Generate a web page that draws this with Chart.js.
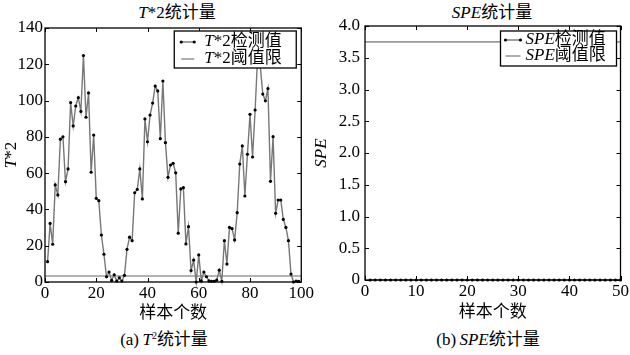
<!DOCTYPE html>
<html>
<head>
<meta charset="utf-8">
<script src="https://cdn.jsdelivr.net/npm/chart.js@4.4.1/dist/chart.umd.min.js"></script>
<style>
  body { margin: 0; background: #fff; }
  #wrap { position: relative; width: 630px; height: 355px; overflow: hidden; }
  canvas { position: absolute; top: 0; }
  .txt {
    position: absolute; white-space: nowrap; color: #000;
    font-family: "Liberation Serif", "Noto Sans CJK SC", serif;
    font-size: 17px; line-height: 20px; transform: translateX(-50%);
  }
  .txt sup { font-size: 10px; vertical-align: 6px; line-height: 0; }
</style>
</head>
<body>
<div id="wrap">
  <div class="txt" style="left:177px; top:3px;"><i>T</i>*2统计量</div>
  <div class="txt" style="left:492px; top:3px;"><i>SPE</i>统计量</div>
  <div class="txt" style="left:164px; top:330px;">(a)&thinsp;<i>T</i><sup>2</sup>统计量</div>
  <div class="txt" style="left:488px; top:330px;">(b)&thinsp;<i>SPE</i>统计量</div>
  <canvas id="t2Chart" width="315" height="355" style="left:0"></canvas>
  <canvas id="speChart" width="315" height="355" style="left:315px"></canvas>
</div>
<script>
// T^2 statistic, samples 1..99
const t2Values = [11.2, 32.3, 20.8, 53.5, 48, 78.7, 80, 55.3, 62.3, 98.9,
  86, 97, 101.6, 94, 124.8, 90.8, 104.2, 60.5, 81, 46.1,
  44.8, 25.9, 15.3, 2.9, 5.5, 0.9, 4, 0.5, 2.3, 0.5,
  3.7, 18, 24.7, 22.8, 49.2, 51, 62.3, 45.8, 89.9, 77.3,
  92, 98.6, 108, 105.3, 79, 110.8, 76.8, 57.7, 64.5, 65.4,
  60.2, 26.9, 51.3, 52, 21, 30.5, 6.3, 12.1, 0, 14.9,
  0.6, 5.5, 2.9, 0.6, 0.4, 0.4, 1, 6.5, 0.4, 22.8,
  9.9, 30.1, 29.4, 23.2, 38.2, 65, 75, 47.4, 70.4, 92.4,
  68.9, 94.8, 125, 119, 103.6, 99.9, 106.6, 55.5, 80.1, 37.9,
  45.2, 45.2, 34.5, 30.1, 22.8, 4.4, 0, 0.5, 0.3];
const t2Limit = 3.3;
const t2XRange = [0, 100];

// SPE statistic, samples 1..50 (all on the zero line)
const speValues = [0, 0, 0, 0, 0, 0, 0, 0, 0, 0,
  0, 0, 0, 0, 0, 0, 0, 0, 0, 0,
  0, 0, 0, 0, 0, 0, 0, 0, 0, 0,
  0, 0, 0, 0, 0, 0, 0, 0, 0, 0,
  0, 0, 0, 0, 0, 0, 0, 0, 0, 0];
const speLimit = 3.75;
const speXRange = [0, 50];

const FONT = '"Liberation Serif", "Noto Sans CJK SC", serif';

function drawParts(ctx, parts, x, y, size) {
  parts.forEach(([txt, it]) => {
    ctx.font = (it ? 'italic ' : '') + size + 'px ' + FONT;
    ctx.fillText(txt, x, y);
    x += ctx.measureText(txt).width;
  });
}
function partsWidth(ctx, parts, size) {
  let w = 0;
  parts.forEach(([txt, it]) => {
    ctx.font = (it ? 'italic ' : '') + size + 'px ' + FONT;
    w += ctx.measureText(txt).width;
  });
  return w;
}

// box frame with inward ticks on all four sides, plus rotated y label
const frameTicks = {
  id: 'frameTicks',
  afterDatasetsDraw(chart, args, opts) {
    const { ctx, chartArea: a, scales } = chart;
    ctx.save();
    ctx.strokeStyle = '#000';
    ctx.lineWidth = 1.3;
    ctx.strokeRect(a.left, a.top, a.width, a.height);
    ctx.lineWidth = 1;
    const tl = 4;
    ctx.beginPath();
    scales.x.ticks.forEach(t => {
      const px = Math.round(scales.x.getPixelForValue(t.value)) + 0.5;
      ctx.moveTo(px, a.bottom); ctx.lineTo(px, a.bottom - tl);
      ctx.moveTo(px, a.top); ctx.lineTo(px, a.top + tl);
    });
    scales.y.ticks.forEach(t => {
      const py = Math.round(scales.y.getPixelForValue(t.value)) + 0.5;
      ctx.moveTo(a.left, py); ctx.lineTo(a.left + tl, py);
      ctx.moveTo(a.right, py); ctx.lineTo(a.right - tl, py);
    });
    ctx.stroke();
    // y axis title
    ctx.translate(opts.yLabelX, (a.top + a.bottom) / 2);
    ctx.rotate(-Math.PI / 2);
    ctx.fillStyle = '#000';
    ctx.textBaseline = 'middle';
    const w = partsWidth(ctx, opts.yLabel, 17);
    drawParts(ctx, opts.yLabel, -w / 2, 0, 17);
    ctx.restore();
  }
};

// legend box drawn inside the plot, top right
const boxLegend = {
  id: 'boxLegend',
  afterDraw(chart, args, opts) {
    const { ctx, chartArea: a } = chart;
    const x0 = a.right - opts.inset - opts.width;
    const y0 = a.top + opts.top;
    ctx.save();
    ctx.fillStyle = '#fff';
    ctx.fillRect(x0, y0, opts.width, opts.height);
    ctx.strokeStyle = '#000';
    ctx.lineWidth = 1.3;
    ctx.strokeRect(x0, y0, opts.width, opts.height);
    chart.data.datasets.forEach((ds, i) => {
      const cy = y0 + opts.rowY[i];
      const sx = x0 + opts.sampleX, ex = sx + opts.sampleW;
      ctx.strokeStyle = ds.borderColor;
      ctx.lineWidth = ds.borderWidth;
      ctx.beginPath(); ctx.moveTo(sx, cy); ctx.lineTo(ex, cy); ctx.stroke();
      if (ds.pointRadius > 0) {
        ctx.fillStyle = ds.pointBackgroundColor;
        [sx, ex].forEach(px => { ctx.beginPath(); ctx.arc(px, cy, ds.pointRadius, 0, Math.PI * 2); ctx.fill(); });
      }
      ctx.fillStyle = '#000';
      ctx.textBaseline = 'middle';
      drawParts(ctx, ds.labelParts, x0 + opts.textX, cy, opts.fontSize);
    });
    ctx.restore();
  }
};

function makeChart(id, cfg) {
  const pts = cfg.values.map((v, k) => ({ x: k + 1, y: v }));
  const lim = cfg.xRange.map(x => ({ x: x, y: cfg.limit }));
  return new Chart(document.getElementById(id), {
    type: 'line',
    data: {
      datasets: [
        {
          labelParts: cfg.detLabel,
          data: pts,
          borderColor: '#777',
          borderWidth: 1.4,
          pointRadius: 1.6,
          pointBackgroundColor: '#000',
          pointBorderWidth: 0,
          tension: 0,
          clip: false,
        },
        {
          labelParts: cfg.limLabel,
          data: lim,
          borderColor: '#9a9a9a',
          borderWidth: 1.6,
          pointRadius: 0,
          tension: 0,
        },
      ],
    },
    options: {
      responsive: false,
      animation: false,
      events: [],
      layout: { padding: cfg.padding },
      plugins: {
        legend: { display: false },
        tooltip: { enabled: false },
        frameTicks: { yLabel: cfg.yLabel, yLabelX: cfg.yLabelX },
        boxLegend: cfg.legend,
      },
      scales: {
        x: {
          type: 'linear',
          min: cfg.xRange[0], max: cfg.xRange[1],
          grid: { display: false, drawTicks: false },
          border: { display: false },
          ticks: {
            stepSize: cfg.xStep, autoSkip: false, maxRotation: 0,
            padding: 1, color: '#000', font: { family: FONT, size: 17 },
          },
          title: {
            display: true, text: '样本个数', color: '#000',
            padding: 0, font: { family: FONT, size: 17 },
          },
          afterFit: s => { s.height = cfg.xAxisH; },
        },
        y: {
          min: 0, max: cfg.yMax,
          grid: { display: false, drawTicks: false },
          border: { display: false },
          ticks: {
            stepSize: cfg.yStep, autoSkip: false,
            padding: cfg.yTickPad, color: '#000', font: { family: FONT, size: 17 },
            callback: cfg.yFmt,
          },
          afterFit: s => { s.width = cfg.yAxisW; },
        },
      },
    },
    plugins: [frameTicks, boxLegend],
  });
}

makeChart('t2Chart', {
  values: t2Values, limit: t2Limit, xRange: t2XRange,
  xStep: 20, yMax: 140, yStep: 20,
  yFmt: v => String(v),
  detLabel: [['T', true], ['*2检测值', false]],
  limLabel: [['T', true], ['*2阈值限', false]],
  yLabel: [['T', true], ['*2', false]],
  yLabelX: 12,
  padding: { left: 0, right: 5, top: 28, bottom: 31 },
  xAxisH: 42, yAxisW: 45, yTickPad: 2,
  legend: { inset: 5, top: 3, width: 122, height: 37, rowY: [11, 28], sampleX: 7, sampleW: 13, textX: 30, fontSize: 17 },
});

makeChart('speChart', {
  values: speValues, limit: speLimit, xRange: speXRange,
  xStep: 10, yMax: 4, yStep: 0.5,
  yFmt: v => (v === 0 ? '0' : v.toFixed(1)),
  detLabel: [['SPE', true], ['检测值', false]],
  limLabel: [['SPE', true], ['阈值限', false]],
  yLabel: [['SPE', true]],
  yLabelX: 7,
  padding: { left: 0, right: 3, top: 26, bottom: 32 },
  xAxisH: 43, yAxisW: 50, yTickPad: 5,
  legend: { inset: 4, top: 5, width: 116, height: 35, rowY: [9, 25], sampleX: 5, sampleW: 15, textX: 25, fontSize: 17 },
});
</script>
</body>
</html>
